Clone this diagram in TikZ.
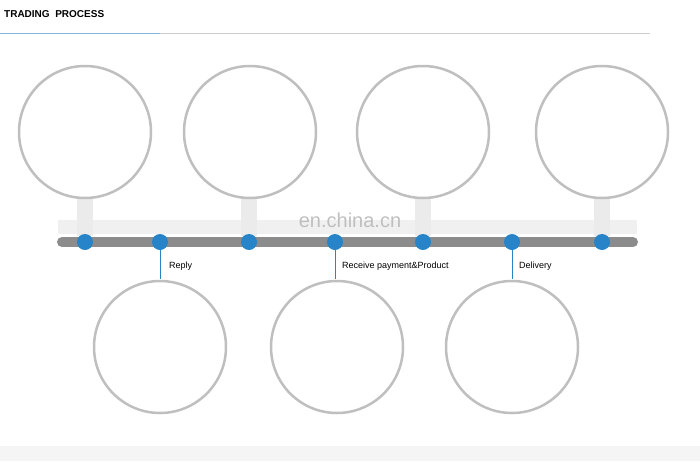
\documentclass[tikz,border=0pt]{standalone}
\usepackage{fontspec}
\setmainfont{Liberation Sans}
\definecolor{dotblue}{RGB}{40,132,200}
\begin{document}
\begin{tikzpicture}[x=1pt,y=-1pt,
  circ/.style={circle,draw=black!25,line width=2.5pt,fill=white,minimum size=132pt,inner sep=0pt},
  dot/.style={circle,fill=dotblue,minimum size=16pt,inner sep=0pt},
  lbl/.style={anchor=west,font=\fontsize{9}{10}\selectfont,inner sep=0pt}]
\useasboundingbox (0,0) rectangle (700,461);
\fill[black!4] (0,446) rectangle (700,461);
\node[anchor=west,font=\bfseries\fontsize{10}{12}\selectfont,inner sep=0pt] (title) at (4,14) {TRADING\ \ PROCESS};
\draw[black!20,line width=0.8pt] (0,33) -- (650,33);
\draw[dotblue!60,line width=0.8pt] (0,33) -- (160,33);
\fill[black!6] (58,220) rectangle (637,234);
\node[font=\fontsize{20}{22}\selectfont,text=black!25] (wm) at (350,220) {en.china.cn};
\draw[black!45,line width=10pt,line cap=round] (62,242) -- (633,242);
\foreach \n/\x in {a/85,c/249,e/423,g/602}{
  \fill[black!8] (\x-8,195) rectangle (\x+8,236);
  \node[dot] (d\n) at (\x,242) {};
}
\foreach \n/\x in {b/160,d/335,f/512}{
  \node[dot] (d\n) at (\x,242) {};
  \coordinate (e\n) at (\x,279);
  \draw[dotblue,line width=1pt] (d\n) -- (e\n);
}
\node[lbl] (l1) at (169,266) {Reply};
\node[lbl] (l2) at (342,266) {Receive payment\&Product};
\node[lbl] (l3) at (519,266) {Delivery};
\node[circ] (c1) at (85,132) {};
\node[circ] (c2) at (250,132) {};
\node[circ] (c3) at (423,132) {};
\node[circ] (c4) at (602,132) {};
\node[circ] (c5) at (160,347) {};
\node[circ] (c6) at (337,347) {};
\node[circ] (c7) at (512,347) {};
\end{tikzpicture}
\end{document}
